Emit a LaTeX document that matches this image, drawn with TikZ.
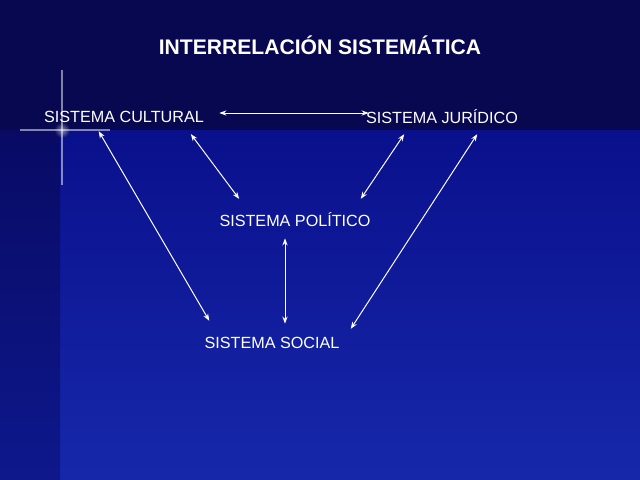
\documentclass[tikz,border=0pt]{standalone}
\usepackage{fontspec}
\usetikzlibrary{arrows.meta}
\setmainfont{Liberation Sans}
\begin{document}
\begin{tikzpicture}[x=0.025cm,y=-0.025cm,
  lbl/.style={text=white,font=\fontsize{11.5}{13}\selectfont,inner sep=1pt},
  link/.style={draw=white,line width=0.7pt,{Stealth[length=5pt]}-{Stealth[length=5pt]},shorten <=1pt,shorten >=1pt}]
\useasboundingbox (0,0) rectangle (640,480);
\fill[color={rgb,255:red,8;green,8;blue,80}] (0,0) rectangle (640,480);
\shade[top color={rgb,255:red,10;green,16;blue,140},bottom color={rgb,255:red,22;green,40;blue,170}] (60,130) rectangle (640,480);
\shade[top color={rgb,255:red,8;green,10;blue,100},bottom color={rgb,255:red,14;green,24;blue,140}] (0,130) rectangle (60,480);
\shade[inner color=white,outer color={rgb,255:red,8;green,8;blue,80},opacity=0.5] (62,130) circle (8);
\fill[white,opacity=0.5] (61.3,70) rectangle (62.7,185);
\fill[white,opacity=0.5] (20,129.3) rectangle (110,130.7);
\node[text=white,font=\bfseries\fontsize{15}{17}\selectfont] (t) at (320,45) {INTERRELACIÓN SISTEMÁTICA};
\node[lbl] (c) at (124,117) {SISTEMA CULTURAL};
\node[lbl] (j) at (442,117) {SISTEMA JURÍDICO};
\node[lbl] (p) at (295,220) {SISTEMA POLÍTICO};
\node[lbl] (s) at (272,343) {SISTEMA SOCIAL};
\coordinate (a1) at (218,113); \coordinate (a2) at (370,113);
\coordinate (b1) at (190,133); \coordinate (b2) at (240,200);
\coordinate (c1) at (405,133); \coordinate (c2) at (360,200);
\coordinate (d1) at (98,130); \coordinate (d2) at (210,322);
\coordinate (e1) at (478,133); \coordinate (e2) at (350,330);
\coordinate (f1) at (285,237); \coordinate (f2) at (285,325);
\draw[link] (a1) -- (a2);
\draw[link] (b1) -- (b2);
\draw[link] (c1) -- (c2);
\draw[link] (d1) -- (d2);
\draw[link] (e1) -- (e2);
\draw[link] (f1) -- (f2);
\end{tikzpicture}
\end{document}
